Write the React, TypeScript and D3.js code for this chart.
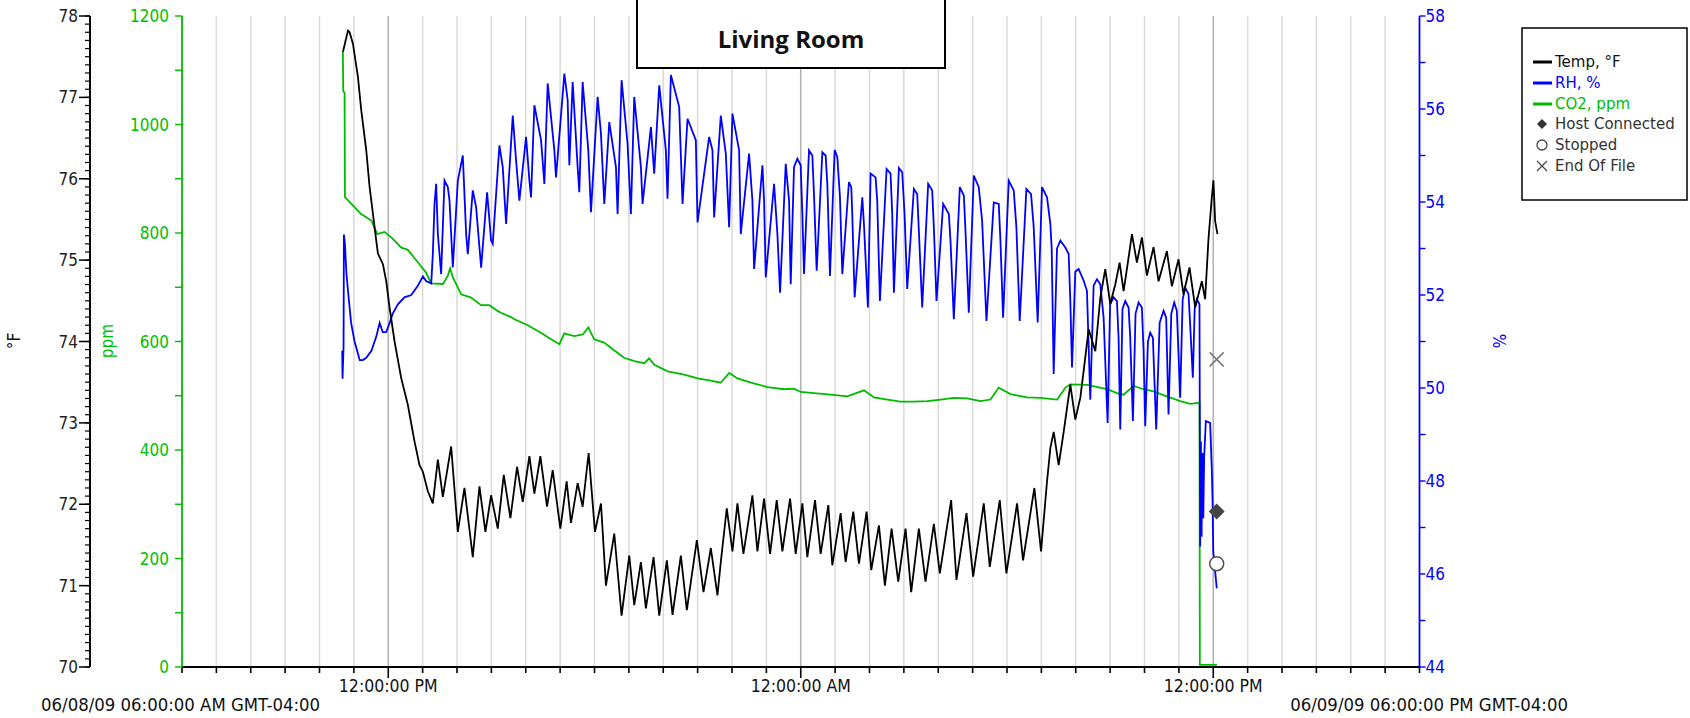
import React from 'react';
import * as d3 from 'd3';

// ---------- data (hours since 06/08/09 06:00 AM) ----------
const titleText = 'Living Room';
const startLabel = '06/08/09 06:00:00 AM GMT-04:00';
const endLabel = '06/09/09 06:00:00 PM GMT-04:00';
const xMajorHours = [6, 18, 30];
const xMajorLabels = ['12:00:00 PM', '12:00:00 AM', '12:00:00 PM'];
const tempTicks = [70, 71, 72, 73, 74, 75, 76, 77, 78];
const ppmTicks = [0, 200, 400, 600, 800, 1000, 1200];
const rhTicks = [44, 46, 48, 50, 52, 54, 56, 58];
const legendSeries = ['Temp, °F', 'RH, %', 'CO2, ppm'];
const legendEvents = ['Host Connected', 'Stopped', 'End Of File'];

const tempData: [number, number][] = [
  [4.683, 77.56], [4.828, 77.82], [4.876, 77.8], [4.973, 77.66], [5.118, 77.25], [5.215, 76.84], [5.36, 76.35],
  [5.457, 75.9], [5.554, 75.57], [5.651, 75.24], [5.7, 75.08], [5.845, 74.95], [5.942, 74.74], [6.038, 74.42],
  [6.184, 74.0], [6.377, 73.55], [6.571, 73.22], [6.765, 72.77], [6.91, 72.48], [7.007, 72.4], [7.152, 72.16],
  [7.297, 72.01], [7.443, 72.55], [7.588, 72.09], [7.83, 72.71], [8.024, 71.66], [8.217, 72.2], [8.459, 71.35],
  [8.653, 72.22], [8.827, 71.66], [8.992, 72.11], [9.186, 71.7], [9.36, 72.36], [9.554, 71.83], [9.748, 72.46],
  [9.912, 72.03], [10.106, 72.59], [10.251, 72.13], [10.425, 72.59], [10.619, 71.97], [10.784, 72.42],
  [11.006, 71.7], [11.19, 72.28], [11.316, 71.77], [11.51, 72.26], [11.655, 71.97], [11.83, 72.63],
  [12.013, 71.66], [12.188, 72.01], [12.333, 71.0], [12.575, 71.64], [12.788, 70.63], [13.011, 71.37],
  [13.156, 70.76], [13.35, 71.29], [13.495, 70.72], [13.718, 71.35], [13.883, 70.63], [14.105, 71.31],
  [14.27, 70.64], [14.512, 71.37], [14.686, 70.7], [14.977, 71.56], [15.171, 70.92], [15.384, 71.46],
  [15.577, 70.88], [15.674, 71.29], [15.848, 71.95], [16.013, 71.42], [16.158, 72.01], [16.332, 71.39],
  [16.594, 72.11], [16.739, 71.42], [16.933, 72.07], [17.107, 71.39], [17.301, 72.05], [17.466, 71.42],
  [17.689, 72.07], [17.853, 71.39], [18.047, 72.01], [18.192, 71.35], [18.415, 72.05], [18.579, 71.39],
  [18.802, 71.99], [18.918, 71.25], [19.16, 71.89], [19.305, 71.29], [19.528, 71.91], [19.693, 71.27],
  [19.916, 71.91], [20.051, 71.19], [20.274, 71.74], [20.448, 71.0], [20.642, 71.7], [20.836, 71.05],
  [21.049, 71.7], [21.213, 70.92], [21.436, 71.7], [21.63, 71.05], [21.872, 71.76], [22.046, 71.15],
  [22.375, 72.05], [22.53, 71.07], [22.821, 71.89], [23.015, 71.11], [23.324, 72.01], [23.499, 71.23],
  [23.789, 72.05], [23.983, 71.15], [24.293, 72.01], [24.467, 71.31], [24.796, 72.2], [24.99, 71.42],
  [25.164, 72.28], [25.261, 72.69], [25.358, 72.89], [25.503, 72.48], [25.649, 72.89], [25.745, 73.18],
  [25.842, 73.47], [25.987, 73.04], [26.133, 73.31], [26.23, 73.64], [26.375, 74.15], [26.569, 73.88],
  [26.714, 74.54], [26.859, 74.89], [27.004, 74.46], [27.15, 74.7], [27.276, 74.97], [27.392, 74.62],
  [27.537, 75.03], [27.634, 75.32], [27.779, 74.97], [27.925, 75.28], [28.07, 74.81], [28.263, 75.16],
  [28.409, 74.74], [28.651, 75.11], [28.796, 74.68], [28.99, 75.01], [29.135, 74.58], [29.309, 74.91],
  [29.474, 74.42], [29.668, 74.74], [29.764, 74.52], [29.861, 75.26], [29.958, 75.77], [30.006, 75.98],
  [30.055, 75.48], [30.123, 75.32],
];

const rhData: [number, number][] = [
  [4.66, 50.8], [4.67, 50.2], [4.7, 50.9], [4.71, 53.3], [4.74, 53.1], [4.78, 52.5], [4.84, 52.0], [4.92, 51.4],
  [5.02, 51.0], [5.17, 50.6], [5.26, 50.6], [5.36, 50.65], [5.51, 50.8], [5.65, 51.1], [5.75, 51.4], [5.84, 51.2],
  [5.94, 51.2], [6.04, 51.4], [6.13, 51.6], [6.28, 51.8], [6.47, 51.95], [6.67, 52.0], [6.86, 52.2], [7.01, 52.4],
  [7.1, 52.3], [7.25, 52.25], [7.297, 52.88], [7.346, 53.96], [7.394, 54.39], [7.443, 53.31], [7.539, 52.45],
  [7.636, 54.46], [7.733, 54.32], [7.782, 54.03], [7.878, 52.59], [8.024, 54.46], [8.169, 55.0], [8.266, 53.31],
  [8.314, 52.88], [8.459, 54.25], [8.556, 53.89], [8.702, 52.59], [8.876, 54.21], [8.992, 53.17], [9.04, 53.1],
  [9.234, 55.22], [9.331, 54.75], [9.428, 53.53], [9.622, 55.86], [9.719, 54.89], [9.815, 54.03], [10.009, 55.4],
  [10.106, 54.46], [10.154, 54.1], [10.251, 56.08], [10.445, 55.33], [10.542, 54.39], [10.638, 56.55],
  [10.832, 55.11], [10.88, 54.53], [11.123, 56.76], [11.219, 56.19], [11.268, 54.79], [11.365, 56.58],
  [11.51, 54.75], [11.558, 54.21], [11.655, 56.58], [11.82, 55.11], [11.897, 53.78], [12.091, 56.26],
  [12.188, 55.47], [12.285, 53.96], [12.43, 55.72], [12.624, 54.75], [12.672, 53.74], [12.788, 56.62],
  [12.962, 55.25], [13.059, 53.74], [13.156, 56.26], [13.35, 54.75], [13.398, 53.96], [13.641, 55.61],
  [13.737, 54.61], [13.883, 56.51], [14.076, 55.11], [14.125, 54.07], [14.222, 56.73], [14.464, 56.04],
  [14.561, 53.96], [14.706, 55.79], [14.948, 55.33], [14.997, 53.56], [15.335, 55.4], [15.432, 55.11],
  [15.48, 53.67], [15.674, 55.86], [15.82, 55.04], [15.916, 53.46], [16.013, 55.9], [16.207, 55.11],
  [16.255, 53.31], [16.497, 55.04], [16.594, 54.03], [16.643, 52.56], [16.885, 54.79], [16.933, 54.03],
  [16.982, 52.38], [17.224, 54.39], [17.321, 53.31], [17.398, 52.05], [17.563, 54.82], [17.66, 54.03],
  [17.708, 52.23], [17.804, 54.75], [17.901, 54.93], [17.998, 54.79], [18.047, 53.74], [18.095, 52.45],
  [18.24, 55.11], [18.337, 55.0], [18.385, 54.17], [18.463, 52.52], [18.628, 55.07], [18.724, 55.0],
  [18.773, 54.39], [18.85, 52.41], [18.986, 55.12], [19.063, 54.97], [19.141, 54.1], [19.209, 52.45],
  [19.402, 54.43], [19.47, 54.32], [19.499, 53.74], [19.567, 51.95], [19.79, 54.1], [19.838, 53.53],
  [19.954, 51.73], [20.032, 54.61], [20.177, 54.53], [20.225, 54.03], [20.303, 51.87], [20.497, 54.71],
  [20.613, 54.61], [20.661, 53.74], [20.71, 52.05], [20.855, 54.73], [20.952, 54.64], [21.02, 53.74],
  [21.097, 52.13], [21.291, 54.28], [21.388, 54.17], [21.436, 53.38], [21.533, 51.73], [21.707, 54.39],
  [21.823, 54.25], [21.872, 53.46], [21.949, 51.87], [22.143, 53.96], [22.308, 53.74], [22.356, 53.17],
  [22.453, 51.48], [22.627, 54.32], [22.744, 54.14], [22.792, 53.38], [22.889, 51.62], [23.034, 54.57],
  [23.179, 54.32], [23.276, 53.6], [23.402, 51.44], [23.615, 53.99], [23.76, 53.96], [23.809, 53.17],
  [23.886, 51.51], [24.051, 54.46], [24.196, 54.25], [24.273, 53.46], [24.37, 51.44], [24.564, 54.28],
  [24.7, 54.17], [24.777, 53.46], [24.893, 51.41], [25.019, 54.32], [25.164, 54.1], [25.261, 53.53],
  [25.3, 53.0], [25.358, 50.3], [25.455, 53.0], [25.552, 53.17], [25.697, 53.02], [25.794, 52.88],
  [25.842, 51.87], [25.891, 50.44], [25.987, 52.5], [26.084, 52.56], [26.229, 52.31], [26.326, 52.09],
  [26.423, 49.75], [26.52, 52.2], [26.617, 52.34], [26.714, 52.23], [26.811, 51.51], [26.927, 49.25],
  [27.0, 51.8], [27.101, 51.95], [27.198, 51.87], [27.246, 51.08], [27.295, 49.11], [27.36, 51.7],
  [27.44, 51.87], [27.537, 51.73], [27.585, 51.08], [27.663, 49.29], [27.74, 51.6], [27.827, 51.84],
  [27.924, 51.73], [27.973, 50.8], [28.021, 49.18], [28.1, 51.0], [28.166, 51.19], [28.244, 51.08],
  [28.341, 49.11], [28.44, 51.4], [28.554, 51.66], [28.631, 51.51], [28.699, 49.43], [28.78, 51.6],
  [28.864, 51.84], [28.941, 51.66], [29.038, 49.79], [29.11, 51.9], [29.183, 52.16], [29.28, 52.02],
  [29.328, 51.37], [29.406, 50.22], [29.46, 51.7], [29.522, 51.91], [29.599, 51.8], [29.62, 46.59],
  [29.64, 48.85], [29.66, 46.8], [29.685, 48.6], [29.71, 47.2], [29.735, 48.5], [29.784, 49.29],
  [29.909, 49.25], [29.96, 48.21], [29.98, 47.56], [30.0, 46.48], [30.055, 46.05], [30.103, 45.69],
];

const co2Data: [number, number][] = [
  [4.68, 1135], [4.69, 1062], [4.73, 1058], [4.74, 866], [5.21, 835], [5.51, 823], [5.68, 798], [5.89, 802],
  [6.09, 792], [6.38, 773], [6.57, 769], [6.86, 746], [7.1, 727], [7.25, 707], [7.59, 706], [7.73, 721],
  [7.8, 735], [7.88, 718], [8.12, 687], [8.41, 681], [8.7, 667], [8.94, 667], [9.19, 656], [9.28, 653],
  [9.57, 645], [9.67, 641], [10.06, 630], [10.44, 616], [10.69, 606], [10.98, 595], [11.12, 615], [11.41, 610],
  [11.66, 613], [11.82, 626], [11.99, 604], [12.28, 598], [12.57, 584], [12.86, 570], [13.16, 564],
  [13.45, 560], [13.59, 569], [13.74, 557], [14.13, 545], [14.61, 539], [15.0, 532], [15.38, 528],
  [15.67, 524], [15.92, 542], [16.16, 532], [16.55, 524], [17.03, 516], [17.51, 512], [17.8, 513], [18.0, 507],
  [18.38, 505], [18.87, 502], [19.35, 499], [19.84, 510], [20.13, 497], [20.52, 493], [20.9, 489],
  [21.29, 489], [21.68, 490], [22.07, 493], [22.45, 496], [22.84, 495], [23.23, 490], [23.52, 493],
  [23.76, 515], [24.1, 503], [24.58, 497], [24.97, 496], [25.46, 493], [25.7, 515], [25.84, 521], [26.33, 520],
  [26.91, 512], [27.2, 505], [27.39, 502], [27.68, 518], [27.97, 512], [28.26, 508], [28.65, 499], [29.04, 490],
  [29.33, 485], [29.57, 487], [29.6, 487], [29.61, 4], [30.11, 4],
];

// event markers: [hour, value on temp axis]
const eventHostConnected: [number, number] = [30.1, 71.91];
const eventStopped: [number, number] = [30.1, 71.27];
const eventEndOfFile: [number, number] = [30.1, 73.78];

// ---------- styling / layout ----------
const W = 1690, H = 718;
const PL = 182, PR = 1419.5, PT = 16, PB = 667;
const TEMP_AX = 90;
const BLACK = '#000';
const BLUE = '#0000ff';
const GREEN = '#00bb00';
const FONT = "'DejaVu Sans Condensed', 'DejaVu Sans', Verdana, sans-serif";
const LFONT = "'DejaVu Sans', Verdana, sans-serif";

export default function App() {
  const x = d3.scaleLinear().domain([0, 36]).range([PL, PR]);
  const yT = d3.scaleLinear().domain([70, 78]).range([PB, PT]);
  const yC = d3.scaleLinear().domain([0, 1200]).range([PB, PT]);
  const yR = d3.scaleLinear().domain([44, 58]).range([PB, PT]);

  const lineT = d3.line<[number, number]>().x(d => x(d[0])).y(d => yT(d[1]));
  const lineR = d3.line<[number, number]>().x(d => x(d[0])).y(d => yR(d[1]));
  const lineC = d3.line<[number, number]>().x(d => x(d[0])).y(d => yC(d[1]));

  const hours = d3.range(0, 37);
  const tempMinor = d3.range(700, 781).map(v => v / 10);
  const ppmMinor = d3.range(0, 1201, 100);
  const rhMinor = d3.range(44, 59, 1);

  const legendRowY = [62, 83, 104, 124, 145, 166];
  const lgX = 1533;
  const fs = 17;
  const dfs = 18.4;

  return (
    <svg width={W} height={H} style={{ position: 'absolute', left: 0, top: 0, display: 'block' }} fontFamily={FONT}>
      <rect x={0} y={0} width={W} height={H} fill="#fff" />

      {/* grid lines */}
      {hours.filter(h => h > 0 && h < 36).map(h => (
        <line key={'g' + h} x1={x(h)} x2={x(h)} y1={PT} y2={PB}
          stroke={xMajorHours.includes(h) ? '#b4b4b4' : '#dcdcdc'} strokeWidth={1.6} />
      ))}

      {/* bottom axis */}
      <line x1={PL} x2={PR} y1={PB} y2={PB} stroke={BLACK} strokeWidth={2} />
      {hours.map(h => (
        <line key={'xt' + h} x1={x(h)} x2={x(h)} y1={PB} y2={PB + (xMajorHours.includes(h) ? 11 : 6)} stroke={BLACK} strokeWidth={1.6} />
      ))}
      {xMajorHours.map((h, i) => (
        <text key={'xl' + h} x={x(h)} y={692} textAnchor="middle" fontSize={17.5} fill="#111">{xMajorLabels[i]}</text>
      ))}
      <text x={41} y={711} fontSize={dfs} fill="#111">{startLabel}</text>
      <text x={1568} y={711} fontSize={dfs} fill="#111" textAnchor="end">{endLabel}</text>

      {/* data */}
      <path d={lineC(co2Data) || ''} fill="none" stroke={GREEN} strokeWidth={1.8} />
      <path d={lineR(rhData) || ''} fill="none" stroke={BLUE} strokeWidth={1.8} />
      <path d={lineT(tempData) || ''} fill="none" stroke={BLACK} strokeWidth={1.8} />

      {/* event markers */}
      {(() => {
        const [ex, ey] = [x(eventEndOfFile[0]), yT(eventEndOfFile[1])];
        const [dx, dy] = [x(eventHostConnected[0]), yT(eventHostConnected[1])];
        const [cx, cy] = [x(eventStopped[0]), yT(eventStopped[1])];
        return (
          <g>
            <path d={`M${ex - 7},${ey - 7}L${ex + 7},${ey + 7}M${ex - 7},${ey + 7}L${ex + 7},${ey - 7}`} stroke="#777" strokeWidth={1.5} />
            <path d={`M${dx},${dy - 8}L${dx + 8},${dy}L${dx},${dy + 8}L${dx - 8},${dy}Z`} fill="#444" />
            <circle cx={cx} cy={cy} r={7} fill="#fff" stroke="#555" strokeWidth={1.5} />
          </g>
        );
      })()}

      {/* temp axis */}
      <line x1={TEMP_AX} x2={TEMP_AX} y1={PT} y2={PB} stroke={BLACK} strokeWidth={2} />
      {tempMinor.map(v => (
        <line key={'tm' + v} x1={TEMP_AX - 5} x2={TEMP_AX} y1={yT(v)} y2={yT(v)} stroke={BLACK} strokeWidth={1.2} />
      ))}
      {tempTicks.map(v => (
        <g key={'tt' + v}>
          <line x1={TEMP_AX - 11} x2={TEMP_AX} y1={yT(v)} y2={yT(v)} stroke={BLACK} strokeWidth={1.5} />
          <text x={TEMP_AX - 12} y={yT(v)} dy="0.36em" textAnchor="end" fontSize={fs} fill="#222">{v}</text>
        </g>
      ))}
      <text transform={`translate(20,341) rotate(-90)`} textAnchor="middle" fontSize={fs} fill="#111">°F</text>

      {/* ppm axis */}
      <line x1={PL} x2={PL} y1={PT} y2={PB} stroke={GREEN} strokeWidth={1.8} />
      {ppmMinor.map(v => (
        <line key={'pm' + v} x1={PL - 7} x2={PL} y1={yC(v)} y2={yC(v)} stroke={GREEN} strokeWidth={1.4} />
      ))}
      {ppmTicks.map(v => (
        <text key={'pt' + v} x={PL - 13} y={yC(v)} dy="0.36em" textAnchor="end" fontSize={fs} fill="#00c000">{v}</text>
      ))}
      <text transform={`translate(113,341) rotate(-90)`} textAnchor="middle" fontSize={fs} fill="#00c000">ppm</text>

      {/* RH axis */}
      <line x1={PR} x2={PR} y1={PT} y2={PB} stroke={BLUE} strokeWidth={1.8} />
      {rhMinor.map(v => (
        <line key={'rm' + v} x1={PR} x2={PR + 6} y1={yR(v)} y2={yR(v)} stroke={BLUE} strokeWidth={1.4} />
      ))}
      {rhTicks.map(v => (
        <text key={'rt' + v} x={PR + 6} y={yR(v)} dy="0.36em" fontSize={fs} fill={BLUE}>{v}</text>
      ))}
      <text transform={`translate(1493,341) rotate(90)`} textAnchor="middle" fontSize={fs} fill={BLUE}>%</text>

      {/* title box */}
      <rect x={637} y={-5} width={308} height={73} fill="#fff" stroke={BLACK} strokeWidth={2} />
      <text x={791} y={48} textAnchor="middle" fontFamily="'Open Sans', sans-serif" fontWeight={700} fontSize={24} fill="#111">{titleText}</text>

      {/* legend */}
      <rect x={1522} y={28} width={165} height={172} fill="#fff" stroke={BLACK} strokeWidth={1.5} />
      {legendSeries.map((s, i) => {
        const c = [BLACK, BLUE, GREEN][i];
        return (
          <g key={'ls' + i}>
            <line x1={lgX} x2={lgX + 19} y1={legendRowY[i]} y2={legendRowY[i]} stroke={c} strokeWidth={3} />
            <text x={lgX + 22} y={legendRowY[i]} dy="0.36em" fontFamily={LFONT} fontSize={15} fill={i === 0 ? '#111' : c}>{s}</text>
          </g>
        );
      })}
      {legendEvents.map((s, i) => {
        const cy = legendRowY[3 + i];
        const cx = lgX + 9;
        let mark: React.ReactNode = null;
        if (i === 0) mark = <path d={`M${cx},${cy - 5}L${cx + 5},${cy}L${cx},${cy + 5}L${cx - 5},${cy}Z`} fill="#333" />;
        if (i === 1) mark = <circle cx={cx} cy={cy} r={5} fill="#fff" stroke="#444" strokeWidth={1.3} />;
        if (i === 2) mark = <path d={`M${cx - 5},${cy - 5}L${cx + 5},${cy + 5}M${cx - 5},${cy + 5}L${cx + 5},${cy - 5}`} stroke="#444" strokeWidth={1.2} />;
        return (
          <g key={'le' + i}>
            {mark}
            <text x={lgX + 22} y={cy} dy="0.36em" fontFamily={LFONT} fontSize={15} fill="#333">{s}</text>
          </g>
        );
      })}
    </svg>
  );
}
